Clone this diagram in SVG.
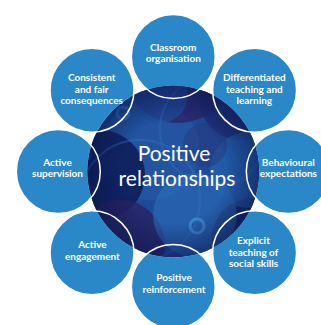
<svg xmlns="http://www.w3.org/2000/svg" width="321" height="325" viewBox="0 0 321 325">
<style>
.sat{fill:#2a87c8}
.ring{fill:none;stroke:#ffffff;stroke-width:1.5}
.lbl{font-family:Lato,"Liberation Sans",sans-serif;font-weight:bold;font-size:10px;fill:#ffffff;text-anchor:middle}
.title{font-family:Lato,"Liberation Sans",sans-serif;font-size:21px;fill:#ffffff;text-anchor:middle}
.ov{stroke:none}
</style>
<defs>
<clipPath id="bigClip"><circle cx="173.3" cy="171.5" r="86"/></clipPath>
<mask id="outside" maskUnits="userSpaceOnUse" x="0" y="0" width="321" height="325">
<rect x="0" y="0" width="321" height="325" fill="#fff"/>
<circle cx="173.3" cy="171.5" r="86" fill="#000"/>
</mask>
<radialGradient id="vig" cx="173.3" cy="171.5" r="86" gradientUnits="userSpaceOnUse">
<stop offset="0.6" stop-color="#0a1448" stop-opacity="0"/>
<stop offset="1" stop-color="#0a1448" stop-opacity="0.55"/>
</radialGradient>
</defs>
<rect width="321" height="325" fill="#ffffff"/>

<g id="center">
<g clip-path="url(#bigClip)">
<rect x="85" y="83" width="180" height="180" fill="#1d4b9a"/>
<circle class="ov" cx="150" cy="150" r="50" fill="#2a62b0" opacity="0.4"/>
<circle class="ov" cx="100" cy="175" r="45" fill="#0d1c58" opacity="0.85"/>
<circle class="ov" cx="178" cy="68" r="55" fill="#2c2468" opacity="0.8"/>
<circle class="ov" cx="160" cy="95" r="28" fill="#1e4f9e" opacity="0.7"/>
<circle class="ov" cx="240" cy="100" r="40" fill="#1f2a70" opacity="0.75"/>
<circle class="ov" cx="120" cy="245" r="45" fill="#2a2263" opacity="0.8"/>
<circle class="ov" cx="252" cy="238" r="40" fill="#161f5e" opacity="0.8"/>
<circle class="ov" cx="195" cy="215" r="42" fill="#2d72bd" opacity="0.55"/>
<circle class="ov" cx="248" cy="170" r="38" fill="#2566b3" opacity="0.6"/>
<circle class="ov" cx="205" cy="145" r="22" fill="#2b3578" opacity="0.45"/>
<circle cx="140" cy="200" r="60" fill="none" stroke="#3170b8" stroke-width="2" opacity="0.45"/>
<circle cx="215" cy="130" r="55" fill="none" stroke="#3170b8" stroke-width="2" opacity="0.4"/>
<circle cx="123" cy="113" r="6" fill="none" stroke="#2f74bf" stroke-width="3"/>
<circle cx="197" cy="226" r="7" fill="none" stroke="#3a86cc" stroke-width="3"/>
<rect x="85" y="83" width="180" height="180" fill="url(#vig)"/>
</g>
<text class="title" x="174" y="161">Positive</text>
<text class="title" x="177" y="185.5">relationships</text>
</g>

<g id="classroom-organisation">
<circle class="sat" cx="173.3" cy="56.5" r="42" mask="url(#outside)"/>
<circle class="ring" cx="173.3" cy="56.5" r="42"/>
<text class="lbl" x="173.3" y="50.5">Classroom</text>
<text class="lbl" x="173.3" y="61.5">organisation</text>
</g>

<g id="differentiated-teaching">
<circle class="sat" cx="254.6" cy="90.2" r="42" mask="url(#outside)"/>
<circle class="ring" cx="254.6" cy="90.2" r="42"/>
<text class="lbl" x="254.3" y="81">Differentiated</text>
<text class="lbl" x="254.3" y="92.5">teaching and</text>
<text class="lbl" x="254.3" y="104">learning</text>
</g>

<g id="behavioural-expectations">
<circle class="sat" cx="288.3" cy="171.5" r="42" mask="url(#outside)"/>
<circle class="ring" cx="288.3" cy="171.5" r="42"/>
<text class="lbl" x="288.3" y="165.7">Behavioural</text>
<text class="lbl" x="288.3" y="177.3">expectations</text>
</g>

<g id="explicit-teaching">
<circle class="sat" cx="254.6" cy="252.8" r="42" mask="url(#outside)"/>
<circle class="ring" cx="254.6" cy="252.8" r="42"/>
<text class="lbl" x="253.5" y="244.3">Explicit</text>
<text class="lbl" x="253.5" y="256">teaching of</text>
<text class="lbl" x="253.5" y="267">social skills</text>
</g>

<g id="positive-reinforcement">
<circle class="sat" cx="173.3" cy="286.5" r="42" mask="url(#outside)"/>
<circle class="ring" cx="173.3" cy="286.5" r="42"/>
<text class="lbl" x="174" y="281">Positive</text>
<text class="lbl" x="174" y="293.3">reinforcement</text>
</g>

<g id="active-engagement">
<circle class="sat" cx="92" cy="252.8" r="42" mask="url(#outside)"/>
<circle class="ring" cx="92" cy="252.8" r="42"/>
<text class="lbl" x="92.4" y="248.3">Active</text>
<text class="lbl" x="92.4" y="259.5">engagement</text>
</g>

<g id="active-supervision">
<circle class="sat" cx="58.3" cy="171.5" r="42" mask="url(#outside)"/>
<circle class="ring" cx="58.3" cy="171.5" r="42"/>
<text class="lbl" x="57.5" y="165.7">Active</text>
<text class="lbl" x="57.5" y="177.3">supervision</text>
</g>

<g id="consistent-consequences">
<circle class="sat" cx="92" cy="90.2" r="42" mask="url(#outside)"/>
<circle class="ring" cx="92" cy="90.2" r="42"/>
<text class="lbl" x="91.7" y="81">Consistent</text>
<text class="lbl" x="91.7" y="92.7">and fair</text>
<text class="lbl" x="91.7" y="103.7">consequences</text>
</g>
</svg>
